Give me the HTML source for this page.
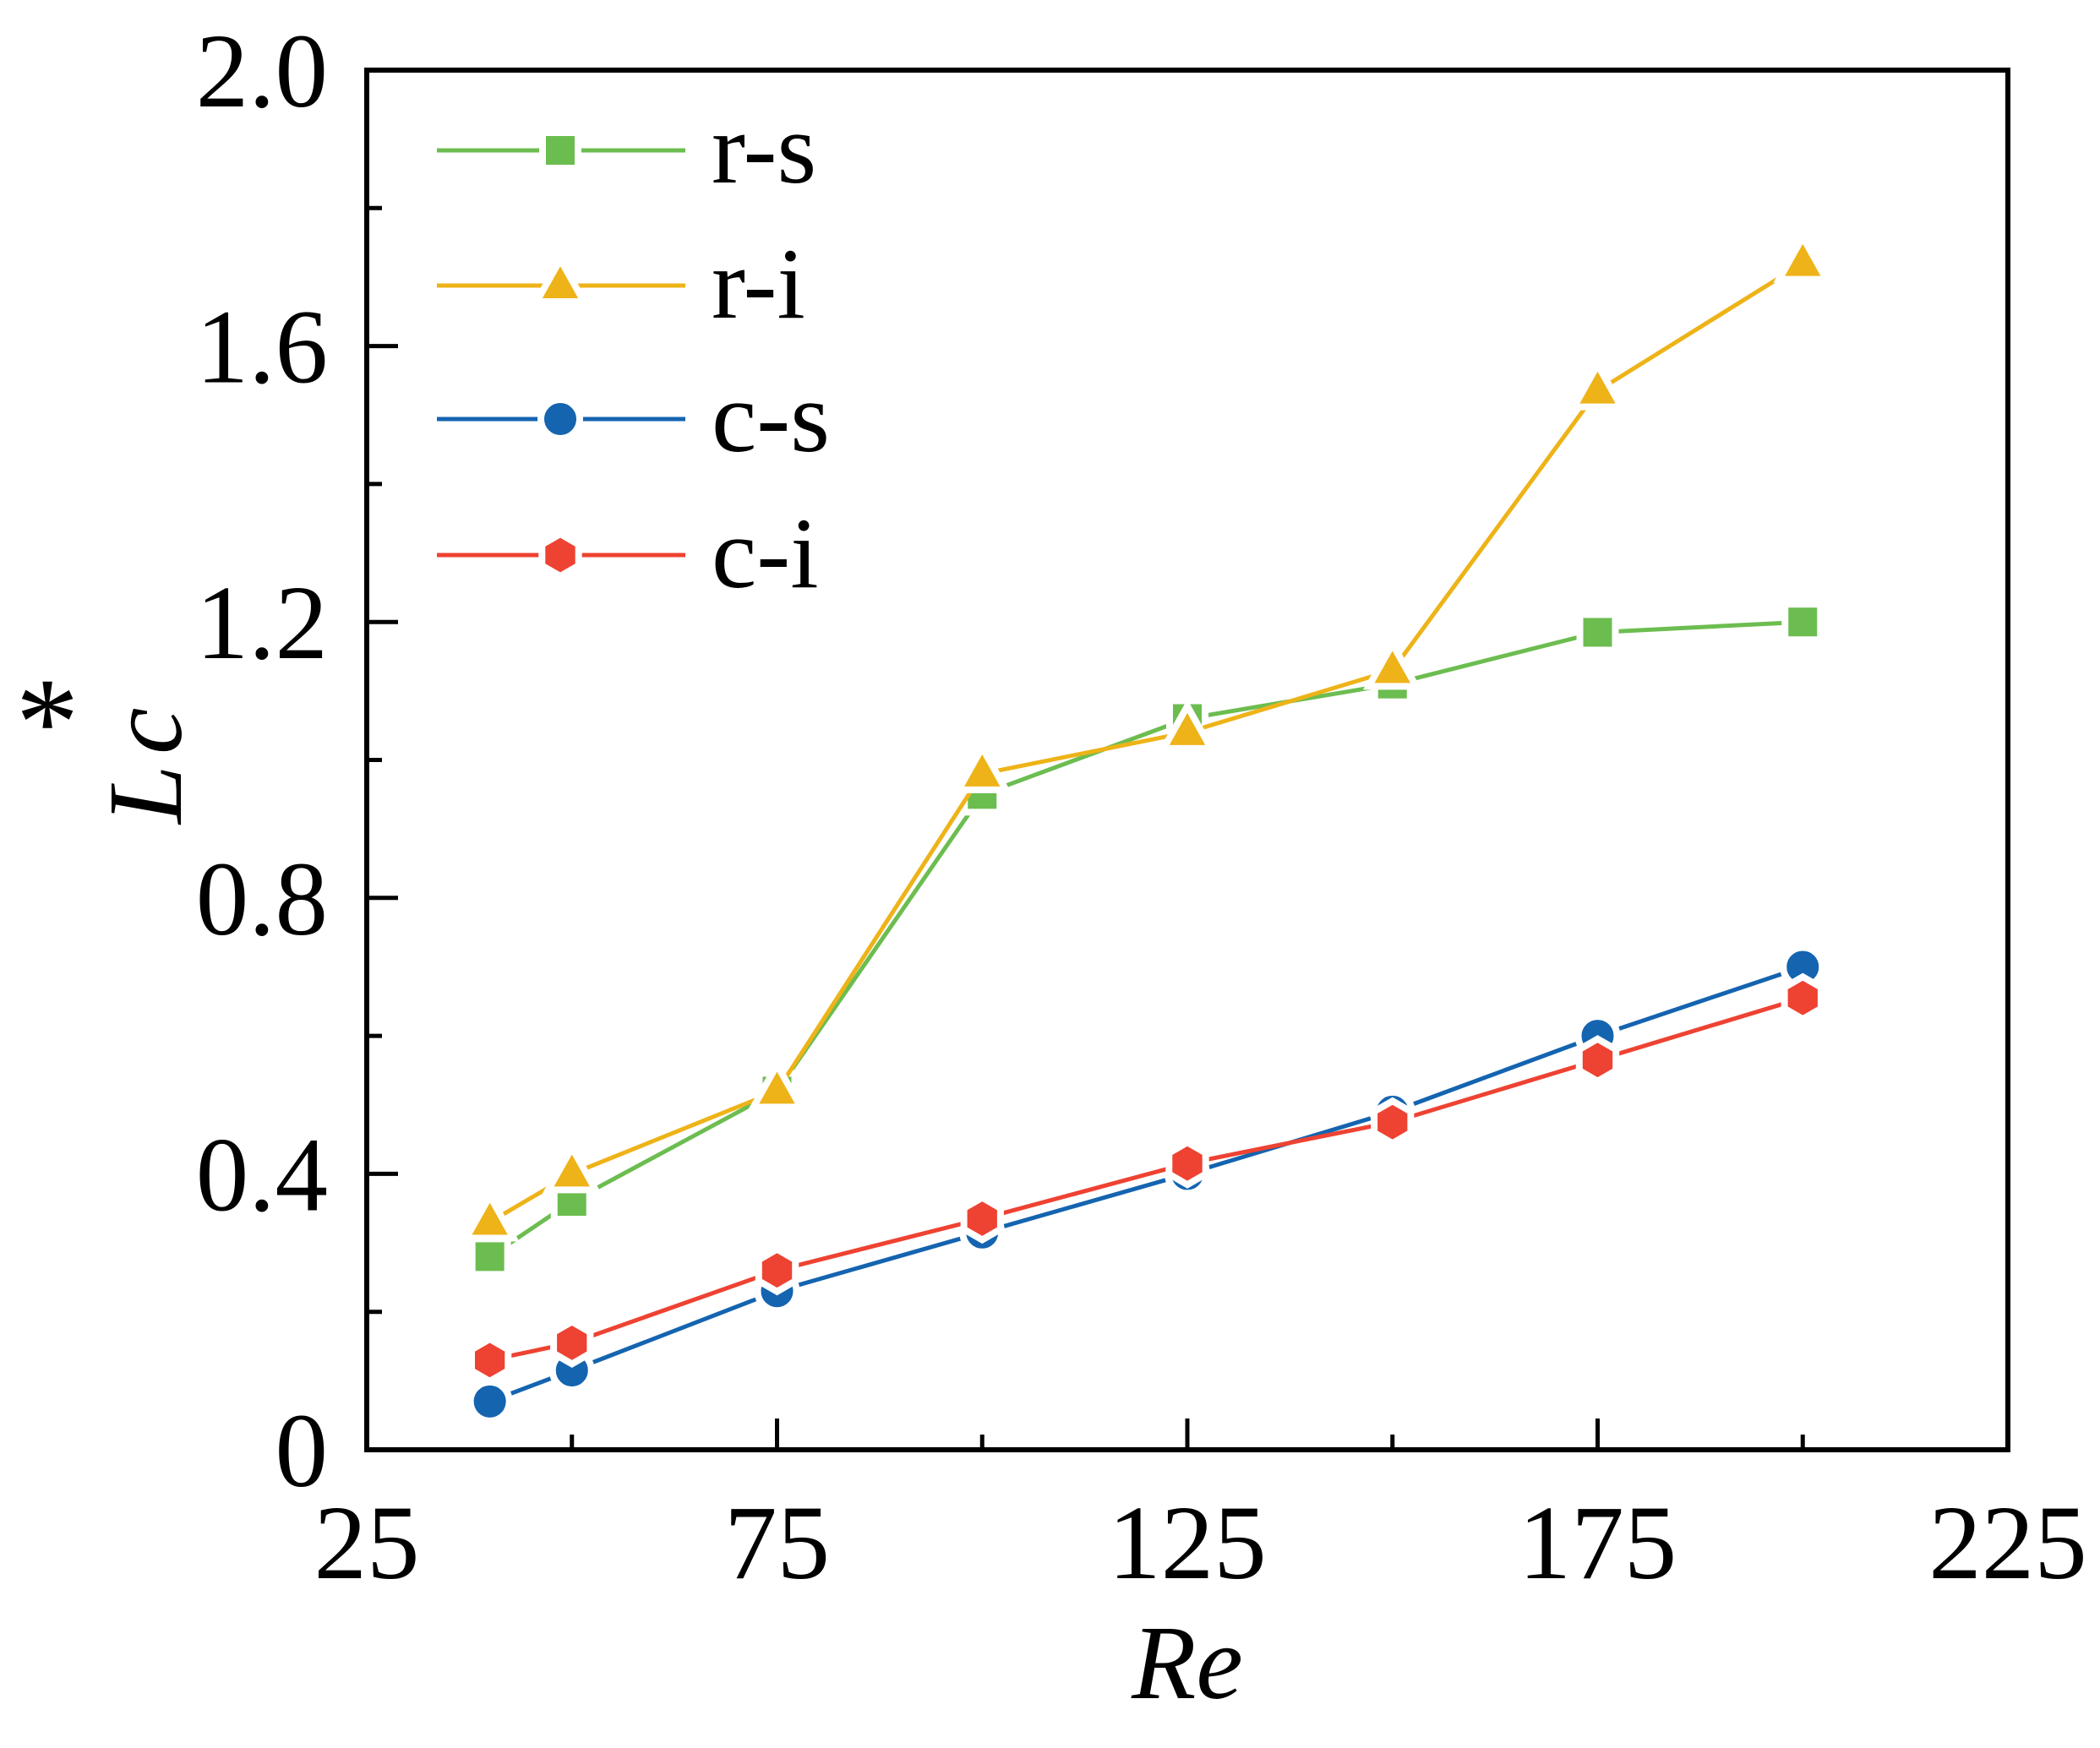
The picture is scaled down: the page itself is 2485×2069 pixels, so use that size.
<!DOCTYPE html>
<html><head><meta charset="utf-8"><style>
html,body{margin:0;padding:0;background:#fff;}
svg text{font-family:"Liberation Serif","Times New Roman",serif;fill:#000;}
</style></head><body>
<svg id="chart" width="2485" height="2064" viewBox="0 0 2485 2064" xmlns="http://www.w3.org/2000/svg" font-family="Liberation Serif, serif">
<g id="series"></g>
<g id="axes"></g>
<g id="legend"></g>
<text x="1405" y="2010" font-size="125" font-style="italic" text-anchor="middle">Re</text>
<g>
<g transform="translate(214,975) rotate(-90)">
<text x="0" y="0" font-size="125" font-style="italic">L</text>
<text x="82" y="0" font-size="125" font-style="italic">c</text>
</g>
<text x="56" y="905" font-size="150" text-anchor="middle">*</text>
</g>
</svg>
<script>
const reValues = [40, 50, 75, 100, 125, 150, 175, 200];
const rsValues = [0.28, 0.36, 0.52, 0.95, 1.06, 1.11, 1.185, 1.20];
const riValues = [0.33, 0.40, 0.52, 0.98, 1.04, 1.13, 1.535, 1.72];
const csValues = [0.07, 0.115, 0.23, 0.315, 0.40, 0.49, 0.60, 0.70];
const ciValues = [0.13, 0.155, 0.26, 0.335, 0.415, 0.475, 0.565, 0.655];
const xTicks = [25, 75, 125, 175, 225];
const xMinor = [50, 100, 150, 200];
const yTicks = [0, 0.4, 0.8, 1.2, 1.6, 2.0];
const yTickLabels = ["0", "0.4", "0.8", "1.2", "1.6", "2.0"];
const yMinor = [0.2, 0.6, 1.0, 1.4, 1.8];

const NS = "http://www.w3.org/2000/svg";
const L = 434, R = 2376, T = 83, B = 1716;
const xMin = 25, xMax = 225, yMin = 0, yMax = 2;
function xs(v){ return L + (v - xMin) / (xMax - xMin) * (R - L); }
function ys(v){ return B - (v - yMin) / (yMax - yMin) * (B - T); }
function mk(tag, attrs, parent){
  const e = document.createElementNS(NS, tag);
  for (const k in attrs) e.setAttribute(k, attrs[k]);
  parent.appendChild(e);
  return e;
}
const gS = document.getElementById('series');
const gA = document.getElementById('axes');
const gL = document.getElementById('legend');

function marker(shape, cx, cy, color, parent){
  let m;
  if (shape === 'square') {
    m = mk('rect', {x: cx - 21, y: cy - 21, width: 42, height: 42, fill: color, stroke: '#fff', 'stroke-width': 8}, parent);
  } else if (shape === 'triangle') {
    m = mk('polygon', {points: `${cx},${cy - 31} ${cx + 28},${cy + 19} ${cx - 28},${cy + 19}`, fill: color, stroke: '#fff', 'stroke-width': 8, 'stroke-linejoin': 'miter'}, parent);
  } else if (shape === 'circle') {
    m = mk('circle', {cx: cx, cy: cy, r: 23, fill: color, stroke: '#fff', 'stroke-width': 8}, parent);
  } else {
    const pts = [];
    for (let i = 0; i < 6; i++) { const a = Math.PI / 2 + i * Math.PI / 3; pts.push((cx + 25 * Math.cos(a)).toFixed(1) + ',' + (cy + 25 * Math.sin(a)).toFixed(1)); }
    m = mk('polygon', {points: pts.join(' '), fill: color, stroke: '#fff', 'stroke-width': 8}, parent);
  }
  return m;
}

const series = [
  {name: 'r-s', vals: rsValues, color: '#6cbd50', shape: 'square'},
  {name: 'r-i', vals: riValues, color: '#eeb318', shape: 'triangle'},
  {name: 'c-s', vals: csValues, color: '#1464b0', shape: 'circle'},
  {name: 'c-i', vals: ciValues, color: '#ee4232', shape: 'hexagon'}
];

series.forEach(s => {
  const g = mk('g', {}, gS);
  
  
  const line = mk('polyline', {points: reValues.map((x, i) => xs(x) + ',' + ys(s.vals[i])).join(' '), fill: 'none', stroke: s.color, 'stroke-width': 5}, g);
  
  
  reValues.forEach((x, i) => {
    const m = marker(s.shape, xs(x), ys(s.vals[i]), s.color, g);
    
    
  });
});

const frame = mk('rect', {x: L, y: T, width: R - L, height: B - T, fill: 'none', stroke: '#000', 'stroke-width': 6}, gA);


xTicks.forEach(v => {
  const t = mk('line', {x1: xs(v), x2: xs(v), y1: B, y2: B - 37, stroke: '#000', 'stroke-width': 5}, gA);
  
  
  const lb = mk('text', {x: xs(v), y: 1868, 'font-size': 125, 'text-anchor': 'middle'}, gA);
  lb.textContent = v;
  
  
});
xMinor.forEach(v => {
  const t = mk('line', {x1: xs(v), x2: xs(v), y1: B, y2: B - 18, stroke: '#000', 'stroke-width': 5}, gA);
  
  
});
yTicks.forEach((v, i) => {
  const t = mk('line', {x1: L, x2: L + 37, y1: ys(v), y2: ys(v), stroke: '#000', 'stroke-width': 5}, gA);
  
  
  const lb = mk('text', {x: 388, y: ys(v) + 43, 'font-size': 125, 'text-anchor': 'end'}, gA);
  lb.textContent = yTickLabels[i];
  
  
});
yMinor.forEach(v => {
  const t = mk('line', {x1: L, x2: L + 18, y1: ys(v), y2: ys(v), stroke: '#000', 'stroke-width': 5}, gA);
  
  
});

const legendY = [178, 338, 496, 657];
series.forEach((s, i) => {
  const g = mk('g', {}, gL);
  
  
  mk('line', {x1: 517, x2: 811, y1: legendY[i], y2: legendY[i], stroke: s.color, 'stroke-width': 5}, g);
  marker(s.shape, 663, legendY[i], s.color, g);
  const t = mk('text', {x: 842, y: legendY[i] + 38, 'font-size': 120}, g);
  t.textContent = s.name;
});
</script>
</body></html>
